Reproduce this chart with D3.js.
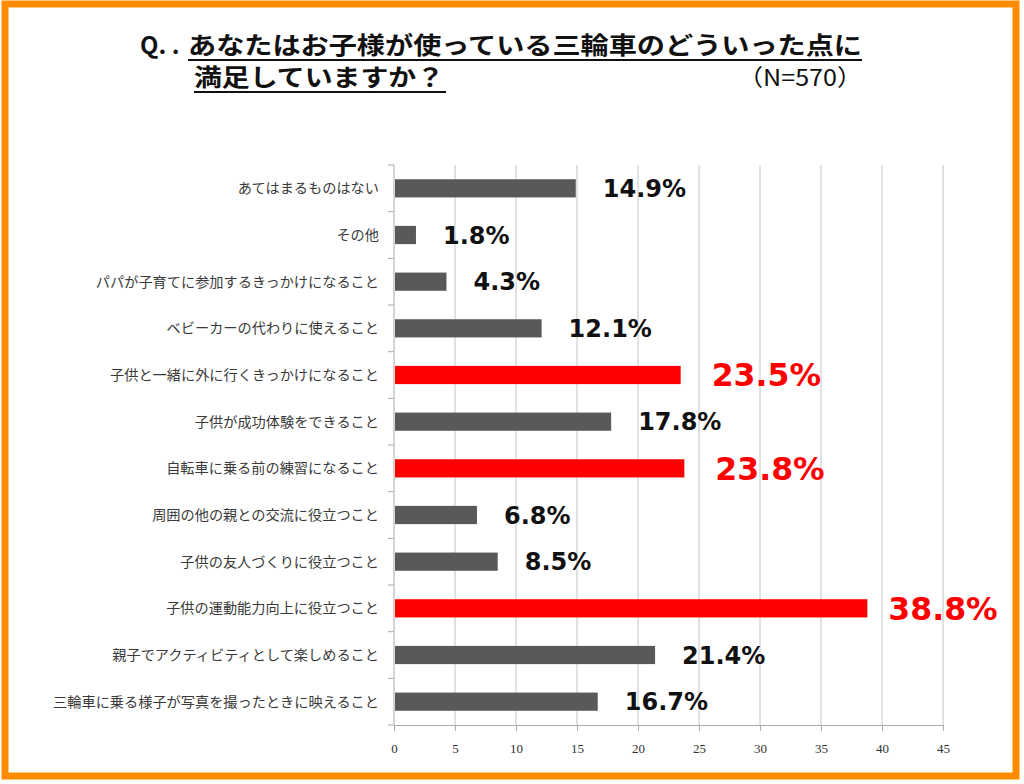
<!DOCTYPE html>
<html><head><meta charset="utf-8">
<script src="https://cdn.jsdelivr.net/npm/d3@7"></script>
<style>body{margin:0;background:#fff;}svg{display:block;}</style>
</head><body><svg id="c" width="1024" height="784"></svg>
<script>
const categories = ["あてはまるものはない","その他","パパが子育てに参加するきっかけになること","ベビーカーの代わりに使えること","子供と一緒に外に行くきっかけになること","子供が成功体験をできること","自転車に乗る前の練習になること","周囲の他の親との交流に役立つこと","子供の友人づくりに役立つこと","子供の運動能力向上に役立つこと","親子でアクティビティとして楽しめること","三輪車に乗る様子が写真を撮ったときに映えること"];
const values = [14.9,1.8,4.3,12.1,23.5,17.8,23.8,6.8,8.5,38.8,21.4,16.7];
const highlighted = [false,false,false,false,true,false,true,false,false,true,false,false];
const xTicks = [0,5,10,15,20,25,30,35,40,45];

const svg = d3.select("#c");
svg.append("rect").attr("x",5).attr("y",4).attr("width",1011).attr("height",772)
  .attr("fill","#fff").attr("stroke","#ff8c00").attr("stroke-width",7);

const x = d3.scaleLinear().domain([0,45]).range([394,943]);
const y = d3.scaleBand().domain(categories).range([165,725]).paddingInner(0.61).paddingOuter(0.305);

// gridlines
svg.append("g").selectAll("line").data(xTicks.slice(1)).join("line")
  .attr("x1",d=>x(d)).attr("x2",d=>x(d)).attr("y1",165).attr("y2",725)
  .attr("stroke","#c4c4c4").attr("stroke-width",1);

// x axis
const xa = svg.append("g").attr("transform","translate(0,725)")
  .call(d3.axisBottom(x).tickValues(xTicks).tickSize(6).tickPadding(13));
xa.select(".domain").attr("stroke","#aaa");
xa.selectAll(".tick line").attr("stroke","#aaa");
xa.selectAll("text").attr("font-family","'Liberation Serif', serif").attr("font-size",13).attr("fill","#333");

// y axis
const yScaleTicks = d3.scaleLinear().domain([0,categories.length]).range([165,725]);
svg.append("line").attr("x1",394).attr("x2",394).attr("y1",165).attr("y2",725).attr("stroke","#aaa");
svg.append("g").selectAll("line").data(d3.range(categories.length+1)).join("line")
  .attr("x1",388).attr("x2",394).attr("y1",d=>yScaleTicks(d)).attr("y2",d=>yScaleTicks(d)).attr("stroke","#aaa");

svg.append("g").selectAll("text").data(categories).join("text")
  .attr("x",379).attr("y",d=>y(d)+y.bandwidth()/2).attr("dy","0.35em")
  .attr("text-anchor","end").attr("font-family","'Noto Sans CJK JP', sans-serif").attr("font-size",14.2)
  .attr("fill","#3a3a3a").text(d=>d);

// bars
svg.append("g").selectAll("rect").data(values).join("rect")
  .attr("x",x(0)+1).attr("y",(d,i)=>y(categories[i]))
  .attr("width",d=>x(d)-x(0)-1).attr("height",y.bandwidth())
  .attr("fill",(d,i)=>highlighted[i]?"#ff0000":"#595959");

// value labels
svg.append("g").selectAll("text").data(values).join("text")
  .attr("x",(d,i)=>x(d)+(highlighted[i]?(d>30?21:31):27))
  .attr("y",(d,i)=>y(categories[i])+y.bandwidth()/2).attr("dy","0.36em")
  .attr("font-family","'DejaVu Sans', sans-serif").attr("font-weight","bold")
  .attr("font-size",(d,i)=>highlighted[i]?31.5:24)
  .attr("fill",(d,i)=>highlighted[i]?"#ff0000":"#111")
  .text(d=>d.toFixed(1)+"%");

// title
const tf = "'Noto Sans CJK JP', sans-serif";
svg.append("text").attr("x",140).attr("y",54).attr("font-family",tf).attr("font-weight","bold")
  .attr("font-size",24).attr("fill","#111").text("Q. .");
svg.append("text").attr("x",188).attr("y",54).attr("font-family",tf).attr("font-weight","bold")
  .attr("font-size",24).attr("fill","#111").attr("textLength",674).attr("lengthAdjust","spacingAndGlyphs")
  .text("あなたはお子様が使っている三輪車のどういった点に");
svg.append("line").attr("x1",188).attr("x2",862).attr("y1",60).attr("y2",60).attr("stroke","#111").attr("stroke-width",2);
svg.append("text").attr("x",194).attr("y",86).attr("font-family",tf).attr("font-weight","bold")
  .attr("font-size",24).attr("fill","#111").attr("textLength",250).attr("lengthAdjust","spacingAndGlyphs")
  .text("満足していますか？");
svg.append("line").attr("x1",194).attr("x2",446).attr("y1",92).attr("y2",92).attr("stroke","#111").attr("stroke-width",2);
svg.append("text").attr("x",738).attr("y",86).attr("font-family",tf)
  .attr("font-size",23).attr("fill","#111").attr("textLength",124).attr("lengthAdjust","spacingAndGlyphs")
  .text("（N=570）");
</script></body></html>
